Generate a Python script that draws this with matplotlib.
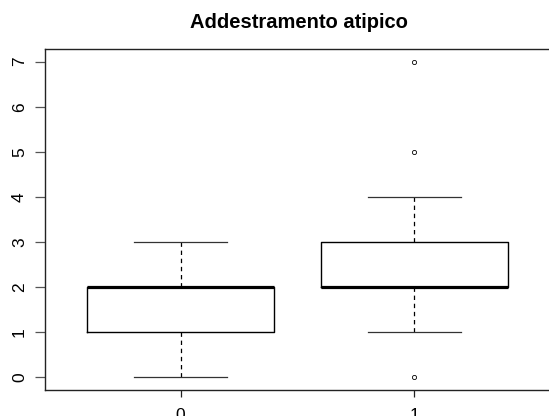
import matplotlib
matplotlib.use('Agg')
import matplotlib.pyplot as plt

# Statistiche dei boxplot per gruppo
grupos = ['0', '1']
minimi = [0, 1]
q1 = [1, 2]
mediane = [2, 2]
q3 = [2, 3]
massimi = [3, 4]
anomali = [[], [0, 5, 7]]

stats = []
for i in range(len(grupos)):
  stats.append({'label': grupos[i], 'whislo': minimi[i], 'q1': q1[i],
                'med': mediane[i], 'q3': q3[i], 'whishi': massimi[i],
                'fliers': anomali[i]})

plt.rcParams['font.family'] = ['Liberation Sans', 'DejaVu Sans']

fig = plt.figure(figsize=(5.49, 4.16), dpi=100)
ax = fig.add_axes([45/549, 26/416, 507/549, 341/416])

ax.bxp(stats, positions=[1, 2], widths=0.8,
       boxprops=dict(color='black', linewidth=1),
       medianprops=dict(color='black', linewidth=2.3, solid_capstyle='butt'),
       whiskerprops=dict(color='black', linewidth=0.9, linestyle=(0, (3.5, 3))),
       capprops=dict(color='#333333', linewidth=0.9),
       capwidths=0.4,
       flierprops=dict(marker='o', markersize=3, markerfacecolor='none',
                       markeredgecolor='black', markeredgewidth=0.6))

ax.set_xlim(0.42, 2.588)
ax.set_ylim(-0.28, 7.28)
ax.set_yticks(range(0, 8))
ax.set_xticks([1, 2])
ax.set_xticklabels(grupos)

for s in ax.spines.values():
  s.set_color('#222222')
  s.set_linewidth(1)

ax.tick_params(axis='y', labelrotation=90, length=7, pad=6, labelsize=12.5,
               color='#555555', width=0.9)
ax.tick_params(axis='x', length=5, pad=8, labelsize=12.5,
               color='#222222', width=0.9)
for t in ax.get_yticklabels():
  t.set_va('center')

ax.set_title('Addestramento atipico', fontsize=14.5, fontweight='bold', pad=15)

fig.savefig('out.png', dpi=100)
